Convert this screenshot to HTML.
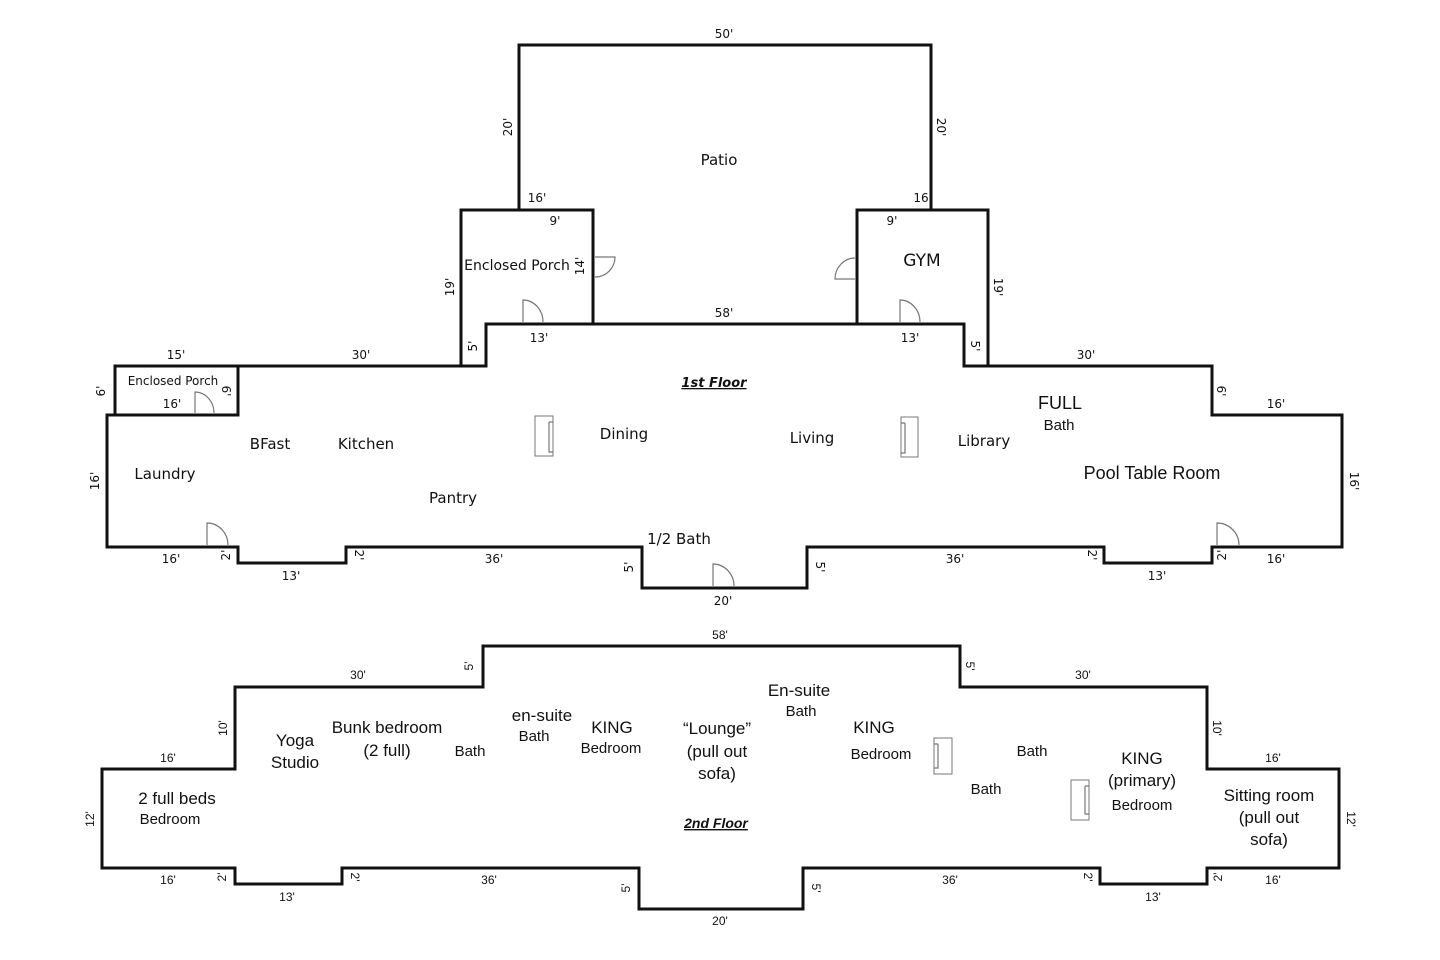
<!DOCTYPE html>
<html><head><meta charset="utf-8"><style>
html,body{margin:0;padding:0;background:#fff;width:1440px;height:960px;overflow:hidden}
svg{display:block}
.w{fill:none;stroke:#111;stroke-width:3;stroke-linejoin:miter}
.d{fill:none;stroke:#777;stroke-width:1.2}
.f{fill:#fff;stroke:#777;stroke-width:1}
.a text{font-family:"DejaVu Sans",sans-serif;fill:#111}
.b text{font-family:"Liberation Sans",sans-serif;fill:#111}
.m{font-size:12px}
.r{font-size:15px}
</style></head><body>
<svg width="1440" height="960" viewBox="0 0 1440 960" xmlns="http://www.w3.org/2000/svg">
<!-- Patio -->
<path class="w" d="M519,210 V45 H931 V210"/>
<!-- Enclosed porch & gym -->
<path class="w" d="M461,366 V210 H593 V324"/>
<path class="w" d="M857,324 V210 H988 V366"/>
<!-- Left small porch -->
<path class="w" d="M115,415 V366 H238 V415"/>
<!-- 1st floor main -->
<path class="w" d="M107,415 V547 H238 V563 H346 V547 H642 V588 H807 V547 H1104 V563 H1212 V547 H1342 V415 H1212 V366 H964 V324 H486 V366 H238 V415 Z"/>
<!-- 2nd floor -->
<path class="w" d="M102,769 V868 H235 V884 H342 V868 H639 V909 H803 V868 H1100 V884 H1207 V868 H1339 V769 H1207 V687 H960 V646 H483 V687 H235 V769 Z"/>
<!-- doors -->
<path class="d" d="M195,413 V392 A19,21 0 0 1 214,413"/>
<path class="d" d="M207,545 V523 A21,22 0 0 1 228,545"/>
<path class="d" d="M523,322 V300 A20,22 0 0 1 543,322"/>
<path class="d" d="M595,257 H615 A20,20 0 0 1 595,277"/>
<path class="d" d="M855,279 H835 A20,21 0 0 1 855,258"/>
<path class="d" d="M900,322 V300 A20,22 0 0 1 920,322"/>
<path class="d" d="M713,586 V564 A21,22 0 0 1 734,586"/>
<path class="d" d="M1217,545 V523 A22,22 0 0 1 1239,545"/>
<!-- fireplaces -->
<rect class="f" x="535" y="416" width="18" height="40"/><path class="d" d="M549,422 V452 H553 M549,422 H553"/>
<rect class="f" x="901" y="417" width="17" height="40"/><path class="d" d="M905,423 V453 H901 M905,423 H901"/>
<rect class="f" x="934" y="738" width="18" height="36"/><path class="d" d="M938,744 V768 H934 M938,744 H934"/>
<rect class="f" x="1071" y="780" width="18" height="40"/><path class="d" d="M1085,786 V814 H1089 M1085,786 H1089"/>

<g class="a" text-anchor="middle">
<text class="m" x="724" y="38">50'</text>
<text class="m" transform="translate(512,127) rotate(-90)">20'</text>
<text class="m" transform="translate(937,127) rotate(90)">20'</text>
<text class="r" x="719" y="165">Patio</text>
<text class="m" x="537" y="202">16'</text>
<text class="m" x="921" y="202">16</text>
<text class="m" x="555" y="225">9'</text>
<text class="m" x="892" y="225">9'</text>
<text style="font-size:14px" x="517" y="270">Enclosed Porch</text>
<text class="m" transform="translate(584,266) rotate(-90)">14'</text>
<text style="font-size:17px" x="922" y="266">GYM</text>
<text class="m" transform="translate(454,287) rotate(-90)">19'</text>
<text class="m" transform="translate(994,287) rotate(90)">19'</text>
<text class="m" x="539" y="342">13'</text>
<text class="m" x="724" y="317">58'</text>
<text class="m" x="910" y="342">13'</text>
<text class="m" transform="translate(477,346) rotate(-90)">5'</text>
<text class="m" transform="translate(971,346) rotate(90)">5'</text>
<text class="m" x="176" y="359">15'</text>
<text class="m" x="361" y="359">30'</text>
<text class="m" x="1086" y="359">30'</text>
<text style="font-size:12px" x="173" y="385">Enclosed Porch</text>
<text class="m" x="172" y="408">16'</text>
<text class="m" transform="translate(105,391) rotate(-90)">6'</text>
<text class="m" transform="translate(222,391) rotate(90)">6'</text>
<text class="m" transform="translate(1217,391) rotate(90)">6'</text>
<text class="m" x="1276" y="408">16'</text>
<text style="font-size:13px;font-weight:bold;font-style:italic;text-decoration:underline" x="714" y="387">1st Floor </text>
<text class="r" x="270" y="449">BFast</text>
<text class="r" x="366" y="449">Kitchen</text>
<text class="r" x="165" y="479">Laundry</text>
<text class="r" x="453" y="503">Pantry</text>
<text class="r" x="624" y="439">Dining</text>
<text class="r" x="812" y="443">Living</text>
<text class="r" x="984" y="446">Library</text>
<text class="m" transform="translate(99,481) rotate(-90)">16'</text>
<text class="m" transform="translate(1350,481) rotate(90)">16'</text>
<text class="m" x="171" y="563">16'</text>
<text class="m" transform="translate(230,555) rotate(-90)">2'</text>
<text class="m" x="291" y="580">13'</text>
<text class="m" transform="translate(355,555) rotate(90)">2'</text>
<text class="m" x="494" y="563">36'</text>
<text class="m" transform="translate(633,567) rotate(-90)">5'</text>
<text class="r" x="679" y="544">1/2 Bath</text>
<text class="m" transform="translate(816,567) rotate(90)">5'</text>
<text class="m" x="723" y="605">20'</text>
<text class="m" x="955" y="563">36'</text>
<text class="m" transform="translate(1088,555) rotate(90)">2'</text>
<text class="m" x="1157" y="580">13'</text>
<text class="m" transform="translate(1226,555) rotate(-90)">2'</text>
<text class="m" x="1276" y="563">16'</text>
</g>
<g class="b" text-anchor="middle">
<text style="font-size:18px" x="1060" y="409">FULL</text>
<text class="r" x="1059" y="430">Bath</text>
<text style="font-size:18px" x="1152" y="479">Pool Table Room</text>

<text style="font-size:12px" x="720" y="639">58'</text>
<text class="m" transform="translate(473,666) rotate(-90)">5'</text>
<text class="m" transform="translate(966,666) rotate(90)">5'</text>
<text class="m" x="358" y="679">30'</text>
<text class="m" x="1083" y="679">30'</text>
<text class="m" transform="translate(227,728) rotate(-90)">10'</text>
<text class="m" transform="translate(1213,728) rotate(90)">10'</text>
<text class="m" x="168" y="762">16'</text>
<text class="m" x="1273" y="762">16'</text>
<text class="m" transform="translate(94,819) rotate(-90)">12'</text>
<text class="m" transform="translate(1347,819) rotate(90)">12'</text>
<text style="font-size:17px" x="177" y="804">2 full beds</text>
<text class="r" x="170" y="824">Bedroom</text>
<text style="font-size:17px" x="295" y="746">Yoga</text>
<text style="font-size:17px" x="295" y="768">Studio</text>
<text style="font-size:17px" x="387" y="733">Bunk bedroom</text>
<text style="font-size:17px" x="387" y="756">(2 full)</text>
<text class="r" x="470" y="756">Bath</text>
<text style="font-size:17px" x="542" y="721">en-suite</text>
<text class="r" x="534" y="741">Bath</text>
<text style="font-size:17px" x="612" y="733">KING</text>
<text class="r" x="611" y="753">Bedroom</text>
<text style="font-size:17px" x="717" y="734">“Lounge”</text>
<text style="font-size:17px" x="717" y="757">(pull out</text>
<text style="font-size:17px" x="717" y="779">sofa)</text>
<text style="font-size:17px" x="799" y="696">En-suite</text>
<text class="r" x="801" y="716">Bath</text>
<text style="font-size:17px" x="874" y="733">KING</text>
<text class="r" x="881" y="759">Bedroom</text>
<text class="r" x="1032" y="756">Bath</text>
<text class="r" x="986" y="794">Bath</text>
<text style="font-size:17px" x="1142" y="764">KING</text>
<text style="font-size:17px" x="1142" y="786">(primary)</text>
<text class="r" x="1142" y="810">Bedroom</text>
<text style="font-size:17px" x="1269" y="801">Sitting room</text>
<text style="font-size:17px" x="1269" y="823">(pull out</text>
<text style="font-size:17px" x="1269" y="845">sofa)</text>
<text style="font-size:14px;font-weight:bold;font-style:italic;text-decoration:underline" x="716" y="828">2nd Floor </text>
<text class="m" x="168" y="884">16'</text>
<text class="m" transform="translate(226,877) rotate(-90)">2'</text>
<text class="m" x="287" y="901">13'</text>
<text class="m" transform="translate(351,877) rotate(90)">2'</text>
<text class="m" x="489" y="884">36'</text>
<text class="m" transform="translate(630,888) rotate(-90)">5'</text>
<text class="m" transform="translate(812,888) rotate(90)">5'</text>
<text class="m" x="720" y="925">20'</text>
<text class="m" x="950" y="884">36'</text>
<text class="m" transform="translate(1084,877) rotate(90)">2'</text>
<text class="m" x="1153" y="901">13'</text>
<text class="m" transform="translate(1222,877) rotate(-90)">2'</text>
<text class="m" x="1273" y="884">16'</text>
</g>
</svg>
</body></html>
